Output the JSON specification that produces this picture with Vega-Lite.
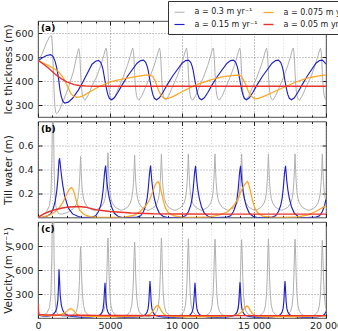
{
  "$schema": "https://vega.github.io/schema/vega-lite/v6.json",
  "padding": {"left": 2, "top": 0, "right": 0, "bottom": 2},
  "config": {
    "font": "DejaVu Sans",
    "view": {"stroke": "#222", "strokeWidth": 0.8},
    "axis": {
      "domain": false,
      "labelFontSize": 9.5,
      "titleFontSize": 10.5,
      "titleFontWeight": "normal",
      "labelColor": "#222",
      "titleColor": "#222",
      "tickColor": "#222",
      "gridColor": "#666",
      "gridDash": [1, 2],
      "gridWidth": 0.7,
      "labelPadding": 9,
      "minExtent": 0
    }
  },
  "datasets": {
    "runs": [
      {"a":"0.3","t":0,"h":485,"w":0,"v":170},
      {"a":"0.3","t":50,"h":487,"w":0.005,"v":40},
      {"a":"0.3","t":300,"h":515,"w":0.02,"v":35},
      {"a":"0.3","t":600,"h":560,"w":0.05,"v":55},
      {"a":"0.3","t":800,"h":584,"w":0.1,"v":130},
      {"a":"0.3","t":900,"h":590,"w":0.2,"v":300},
      {"a":"0.3","t":960,"h":578,"w":0.45,"v":750},
      {"a":"0.3","t":1000,"h":545,"w":0.8,"v":1400},
      {"a":"0.3","t":1040,"h":490,"w":1.0,"v":2000},
      {"a":"0.3","t":1080,"h":420,"w":0.75,"v":1400},
      {"a":"0.3","t":1120,"h":350,"w":0.4,"v":700},
      {"a":"0.3","t":1170,"h":295,"w":0.2,"v":300},
      {"a":"0.3","t":1230,"h":268,"w":0.1,"v":130},
      {"a":"0.3","t":1300,"h":264,"w":0.06,"v":70},
      {"a":"0.3","t":1450,"h":275,"w":0.03,"v":35},
      {"a":"0.3","t":1700,"h":308,"w":0.03,"v":22},
      {"a":"0.3","t":2000,"h":355,"w":0.04,"v":20},
      {"a":"0.3","t":2160,"h":382,"w":0.05,"v":22},
      {"a":"0.3","t":2460,"h":440,"w":0.075,"v":40},
      {"a":"0.3","t":2660,"h":495,"w":0.11,"v":80},
      {"a":"0.3","t":2760,"h":522,"w":0.15,"v":150},
      {"a":"0.3","t":2830,"h":535,"w":0.21,"v":280},
      {"a":"0.3","t":2880,"h":522,"w":0.29,"v":470},
      {"a":"0.3","t":2920,"h":488,"w":0.39,"v":720},
      {"a":"0.3","t":2960,"h":436,"w":0.51,"v":890},
      {"a":"0.3","t":3000,"h":392,"w":0.38,"v":720},
      {"a":"0.3","t":3040,"h":362,"w":0.28,"v":470},
      {"a":"0.3","t":3090,"h":340,"w":0.21,"v":290},
      {"a":"0.3","t":3160,"h":326,"w":0.16,"v":160},
      {"a":"0.3","t":3260,"h":320,"w":0.12,"v":85},
      {"a":"0.3","t":3460,"h":338,"w":0.085,"v":40},
      {"a":"0.3","t":3760,"h":380,"w":0.065,"v":22},
      {"a":"0.3","t":3910,"h":398,"w":0.06,"v":18},
      {"a":"0.3","t":4060,"h":416,"w":0.065,"v":22},
      {"a":"0.3","t":4360,"h":465,"w":0.085,"v":40},
      {"a":"0.3","t":4560,"h":505,"w":0.12,"v":85},
      {"a":"0.3","t":4660,"h":527,"w":0.16,"v":160},
      {"a":"0.3","t":4730,"h":537,"w":0.22,"v":300},
      {"a":"0.3","t":4780,"h":522,"w":0.31,"v":530},
      {"a":"0.3","t":4820,"h":488,"w":0.41,"v":810},
      {"a":"0.3","t":4860,"h":436,"w":0.54,"v":1000},
      {"a":"0.3","t":4900,"h":392,"w":0.41,"v":810},
      {"a":"0.3","t":4940,"h":362,"w":0.31,"v":530},
      {"a":"0.3","t":4990,"h":340,"w":0.22,"v":300},
      {"a":"0.3","t":5060,"h":326,"w":0.16,"v":160},
      {"a":"0.3","t":5160,"h":320,"w":0.12,"v":85},
      {"a":"0.3","t":5360,"h":338,"w":0.085,"v":40},
      {"a":"0.3","t":5660,"h":380,"w":0.065,"v":22},
      {"a":"0.3","t":5785,"h":398,"w":0.06,"v":18},
      {"a":"0.3","t":5910,"h":416,"w":0.065,"v":22},
      {"a":"0.3","t":6210,"h":465,"w":0.085,"v":40},
      {"a":"0.3","t":6410,"h":505,"w":0.12,"v":85},
      {"a":"0.3","t":6510,"h":527,"w":0.16,"v":160},
      {"a":"0.3","t":6580,"h":537,"w":0.22,"v":300},
      {"a":"0.3","t":6630,"h":522,"w":0.29,"v":500},
      {"a":"0.3","t":6670,"h":488,"w":0.39,"v":770},
      {"a":"0.3","t":6710,"h":436,"w":0.52,"v":950},
      {"a":"0.3","t":6750,"h":392,"w":0.39,"v":770},
      {"a":"0.3","t":6790,"h":362,"w":0.29,"v":500},
      {"a":"0.3","t":6840,"h":340,"w":0.22,"v":300},
      {"a":"0.3","t":6910,"h":326,"w":0.16,"v":160},
      {"a":"0.3","t":7010,"h":320,"w":0.12,"v":85},
      {"a":"0.3","t":7210,"h":338,"w":0.085,"v":40},
      {"a":"0.3","t":7510,"h":380,"w":0.065,"v":22},
      {"a":"0.3","t":7640,"h":398,"w":0.06,"v":18},
      {"a":"0.3","t":7770,"h":416,"w":0.065,"v":22},
      {"a":"0.3","t":8070,"h":465,"w":0.085,"v":40},
      {"a":"0.3","t":8270,"h":505,"w":0.12,"v":85},
      {"a":"0.3","t":8370,"h":527,"w":0.16,"v":160},
      {"a":"0.3","t":8440,"h":537,"w":0.22,"v":300},
      {"a":"0.3","t":8490,"h":522,"w":0.3,"v":530},
      {"a":"0.3","t":8530,"h":488,"w":0.4,"v":810},
      {"a":"0.3","t":8570,"h":436,"w":0.53,"v":1000},
      {"a":"0.3","t":8610,"h":392,"w":0.4,"v":810},
      {"a":"0.3","t":8650,"h":362,"w":0.3,"v":530},
      {"a":"0.3","t":8700,"h":340,"w":0.22,"v":300},
      {"a":"0.3","t":8770,"h":326,"w":0.16,"v":160},
      {"a":"0.3","t":8870,"h":320,"w":0.12,"v":85},
      {"a":"0.3","t":9070,"h":338,"w":0.085,"v":40},
      {"a":"0.3","t":9370,"h":380,"w":0.065,"v":22},
      {"a":"0.3","t":9505,"h":398,"w":0.06,"v":18},
      {"a":"0.3","t":9640,"h":416,"w":0.065,"v":22},
      {"a":"0.3","t":9940,"h":465,"w":0.085,"v":40},
      {"a":"0.3","t":10140,"h":505,"w":0.12,"v":85},
      {"a":"0.3","t":10240,"h":527,"w":0.16,"v":160},
      {"a":"0.3","t":10310,"h":537,"w":0.22,"v":300},
      {"a":"0.3","t":10360,"h":522,"w":0.3,"v":525},
      {"a":"0.3","t":10400,"h":488,"w":0.4,"v":800},
      {"a":"0.3","t":10440,"h":436,"w":0.53,"v":990},
      {"a":"0.3","t":10480,"h":392,"w":0.4,"v":800},
      {"a":"0.3","t":10520,"h":362,"w":0.3,"v":525},
      {"a":"0.3","t":10570,"h":340,"w":0.22,"v":300},
      {"a":"0.3","t":10640,"h":326,"w":0.16,"v":160},
      {"a":"0.3","t":10740,"h":320,"w":0.12,"v":85},
      {"a":"0.3","t":10940,"h":338,"w":0.085,"v":40},
      {"a":"0.3","t":11240,"h":380,"w":0.065,"v":22},
      {"a":"0.3","t":11365,"h":398,"w":0.06,"v":18},
      {"a":"0.3","t":11490,"h":416,"w":0.065,"v":22},
      {"a":"0.3","t":11790,"h":465,"w":0.085,"v":40},
      {"a":"0.3","t":11990,"h":505,"w":0.12,"v":85},
      {"a":"0.3","t":12090,"h":527,"w":0.16,"v":160},
      {"a":"0.3","t":12160,"h":537,"w":0.22,"v":300},
      {"a":"0.3","t":12210,"h":522,"w":0.3,"v":520},
      {"a":"0.3","t":12250,"h":488,"w":0.4,"v":800},
      {"a":"0.3","t":12290,"h":436,"w":0.53,"v":985},
      {"a":"0.3","t":12330,"h":392,"w":0.4,"v":800},
      {"a":"0.3","t":12370,"h":362,"w":0.3,"v":520},
      {"a":"0.3","t":12420,"h":340,"w":0.22,"v":300},
      {"a":"0.3","t":12490,"h":326,"w":0.16,"v":160},
      {"a":"0.3","t":12590,"h":320,"w":0.12,"v":85},
      {"a":"0.3","t":12790,"h":338,"w":0.085,"v":40},
      {"a":"0.3","t":13090,"h":380,"w":0.065,"v":22},
      {"a":"0.3","t":13215,"h":398,"w":0.06,"v":18},
      {"a":"0.3","t":13340,"h":416,"w":0.065,"v":22},
      {"a":"0.3","t":13640,"h":465,"w":0.085,"v":40},
      {"a":"0.3","t":13840,"h":505,"w":0.12,"v":85},
      {"a":"0.3","t":13940,"h":527,"w":0.16,"v":160},
      {"a":"0.3","t":14010,"h":537,"w":0.22,"v":300},
      {"a":"0.3","t":14060,"h":522,"w":0.3,"v":520},
      {"a":"0.3","t":14100,"h":488,"w":0.4,"v":795},
      {"a":"0.3","t":14140,"h":436,"w":0.53,"v":980},
      {"a":"0.3","t":14180,"h":392,"w":0.4,"v":795},
      {"a":"0.3","t":14220,"h":362,"w":0.3,"v":520},
      {"a":"0.3","t":14270,"h":340,"w":0.22,"v":300},
      {"a":"0.3","t":14340,"h":326,"w":0.16,"v":160},
      {"a":"0.3","t":14440,"h":320,"w":0.12,"v":85},
      {"a":"0.3","t":14640,"h":338,"w":0.085,"v":40},
      {"a":"0.3","t":14940,"h":380,"w":0.065,"v":22},
      {"a":"0.3","t":15070,"h":398,"w":0.06,"v":18},
      {"a":"0.3","t":15200,"h":416,"w":0.065,"v":22},
      {"a":"0.3","t":15500,"h":465,"w":0.085,"v":40},
      {"a":"0.3","t":15700,"h":505,"w":0.12,"v":85},
      {"a":"0.3","t":15800,"h":527,"w":0.16,"v":160},
      {"a":"0.3","t":15870,"h":537,"w":0.22,"v":300},
      {"a":"0.3","t":15920,"h":522,"w":0.3,"v":520},
      {"a":"0.3","t":15960,"h":488,"w":0.4,"v":800},
      {"a":"0.3","t":16000,"h":436,"w":0.53,"v":985},
      {"a":"0.3","t":16040,"h":392,"w":0.4,"v":800},
      {"a":"0.3","t":16080,"h":362,"w":0.3,"v":520},
      {"a":"0.3","t":16130,"h":340,"w":0.22,"v":300},
      {"a":"0.3","t":16200,"h":326,"w":0.16,"v":160},
      {"a":"0.3","t":16300,"h":320,"w":0.12,"v":85},
      {"a":"0.3","t":16500,"h":338,"w":0.085,"v":40},
      {"a":"0.3","t":16800,"h":380,"w":0.065,"v":22},
      {"a":"0.3","t":16925,"h":398,"w":0.06,"v":18},
      {"a":"0.3","t":17050,"h":416,"w":0.065,"v":22},
      {"a":"0.3","t":17350,"h":465,"w":0.085,"v":40},
      {"a":"0.3","t":17550,"h":505,"w":0.12,"v":85},
      {"a":"0.3","t":17650,"h":527,"w":0.16,"v":160},
      {"a":"0.3","t":17720,"h":537,"w":0.22,"v":300},
      {"a":"0.3","t":17770,"h":522,"w":0.3,"v":520},
      {"a":"0.3","t":17810,"h":488,"w":0.4,"v":800},
      {"a":"0.3","t":17850,"h":436,"w":0.53,"v":985},
      {"a":"0.3","t":17890,"h":392,"w":0.4,"v":800},
      {"a":"0.3","t":17930,"h":362,"w":0.3,"v":520},
      {"a":"0.3","t":17980,"h":340,"w":0.22,"v":300},
      {"a":"0.3","t":18050,"h":326,"w":0.16,"v":160},
      {"a":"0.3","t":18150,"h":320,"w":0.12,"v":85},
      {"a":"0.3","t":18350,"h":338,"w":0.085,"v":40},
      {"a":"0.3","t":18650,"h":380,"w":0.065,"v":22},
      {"a":"0.3","t":18797,"h":398,"w":0.06,"v":18},
      {"a":"0.3","t":18945,"h":416,"w":0.065,"v":22},
      {"a":"0.3","t":19245,"h":465,"w":0.085,"v":40},
      {"a":"0.3","t":19445,"h":505,"w":0.12,"v":85},
      {"a":"0.3","t":19545,"h":527,"w":0.16,"v":160},
      {"a":"0.3","t":19615,"h":537,"w":0.22,"v":300},
      {"a":"0.3","t":19665,"h":522,"w":0.3,"v":515},
      {"a":"0.3","t":19705,"h":488,"w":0.4,"v":785},
      {"a":"0.3","t":19745,"h":436,"w":0.53,"v":970},
      {"a":"0.3","t":19785,"h":392,"w":0.4,"v":785},
      {"a":"0.3","t":19825,"h":362,"w":0.3,"v":515},
      {"a":"0.3","t":19875,"h":340,"w":0.22,"v":300},
      {"a":"0.3","t":19945,"h":326,"w":0.16,"v":160},
      {"a":"0.3","t":20000,"h":322,"w":0.14,"v":120},

      {"a":"0.15","t":0,"h":485,"w":0,"v":170},
      {"a":"0.15","t":50,"h":486,"w":0,"v":35},
      {"a":"0.15","t":300,"h":497,"w":0.002,"v":25},
      {"a":"0.15","t":600,"h":506,"w":0.01,"v":24},
      {"a":"0.15","t":880,"h":510,"w":0.03,"v":30},
      {"a":"0.15","t":1050,"h":502,"w":0.07,"v":45},
      {"a":"0.15","t":1200,"h":480,"w":0.14,"v":75},
      {"a":"0.15","t":1300,"h":455,"w":0.22,"v":120},
      {"a":"0.15","t":1380,"h":428,"w":0.32,"v":220},
      {"a":"0.15","t":1420,"h":412,"w":0.4,"v":380},
      {"a":"0.15","t":1458,"h":395,"w":0.47,"v":608},
      {"a":"0.15","t":1500,"h":375,"w":0.494,"v":460},
      {"a":"0.15","t":1540,"h":358,"w":0.45,"v":290},
      {"a":"0.15","t":1620,"h":335,"w":0.36,"v":160},
      {"a":"0.15","t":1720,"h":316,"w":0.27,"v":95},
      {"a":"0.15","t":1850,"h":308,"w":0.18,"v":55},
      {"a":"0.15","t":2100,"h":312,"w":0.08,"v":30},
      {"a":"0.15","t":2400,"h":328,"w":0.03,"v":18},
      {"a":"0.15","t":2800,"h":362,"w":0.008,"v":13},
      {"a":"0.15","t":3090,"h":393,"w":0,"v":10},
      {"a":"0.15","t":3753,"h":470,"w":0.003,"v":13},
      {"a":"0.15","t":4003,"h":482,"w":0.015,"v":18},
      {"a":"0.15","t":4203,"h":486,"w":0.05,"v":28},
      {"a":"0.15","t":4353,"h":478,"w":0.1,"v":45},
      {"a":"0.15","t":4453,"h":462,"w":0.16,"v":75},
      {"a":"0.15","t":4523,"h":445,"w":0.23,"v":120},
      {"a":"0.15","t":4573,"h":428,"w":0.3,"v":200},
      {"a":"0.15","t":4613,"h":414,"w":0.36,"v":330},
      {"a":"0.15","t":4653,"h":400,"w":0.4,"v":441},
      {"a":"0.15","t":4693,"h":388,"w":0.433,"v":330},
      {"a":"0.15","t":4733,"h":375,"w":0.37,"v":200},
      {"a":"0.15","t":4783,"h":360,"w":0.3,"v":120},
      {"a":"0.15","t":4853,"h":343,"w":0.23,"v":75},
      {"a":"0.15","t":4953,"h":328,"w":0.16,"v":45},
      {"a":"0.15","t":5103,"h":322,"w":0.09,"v":28},
      {"a":"0.15","t":5303,"h":330,"w":0.035,"v":18},
      {"a":"0.15","t":5553,"h":353,"w":0.01,"v":13},
      {"a":"0.15","t":5853,"h":385,"w":0,"v":11},
      {"a":"0.15","t":6215,"h":420,"w":0,"v":10},
      {"a":"0.15","t":6878,"h":474,"w":0.003,"v":13},
      {"a":"0.15","t":7128,"h":485,"w":0.015,"v":18},
      {"a":"0.15","t":7328,"h":487,"w":0.05,"v":28},
      {"a":"0.15","t":7478,"h":478,"w":0.1,"v":45},
      {"a":"0.15","t":7578,"h":462,"w":0.16,"v":75},
      {"a":"0.15","t":7648,"h":445,"w":0.23,"v":120},
      {"a":"0.15","t":7698,"h":428,"w":0.3,"v":205},
      {"a":"0.15","t":7738,"h":414,"w":0.36,"v":345},
      {"a":"0.15","t":7778,"h":400,"w":0.4,"v":462},
      {"a":"0.15","t":7818,"h":388,"w":0.433,"v":345},
      {"a":"0.15","t":7858,"h":375,"w":0.37,"v":205},
      {"a":"0.15","t":7908,"h":360,"w":0.3,"v":120},
      {"a":"0.15","t":7978,"h":343,"w":0.23,"v":75},
      {"a":"0.15","t":8078,"h":328,"w":0.16,"v":45},
      {"a":"0.15","t":8228,"h":322,"w":0.09,"v":28},
      {"a":"0.15","t":8428,"h":330,"w":0.035,"v":18},
      {"a":"0.15","t":8678,"h":353,"w":0.01,"v":13},
      {"a":"0.15","t":8978,"h":385,"w":0,"v":11},
      {"a":"0.15","t":9340,"h":420,"w":0,"v":10},
      {"a":"0.15","t":10002,"h":474,"w":0.003,"v":13},
      {"a":"0.15","t":10252,"h":485,"w":0.015,"v":18},
      {"a":"0.15","t":10452,"h":487,"w":0.05,"v":28},
      {"a":"0.15","t":10602,"h":478,"w":0.1,"v":45},
      {"a":"0.15","t":10702,"h":462,"w":0.16,"v":75},
      {"a":"0.15","t":10772,"h":445,"w":0.23,"v":120},
      {"a":"0.15","t":10822,"h":428,"w":0.3,"v":200},
      {"a":"0.15","t":10862,"h":414,"w":0.36,"v":330},
      {"a":"0.15","t":10902,"h":400,"w":0.4,"v":441},
      {"a":"0.15","t":10942,"h":388,"w":0.43,"v":330},
      {"a":"0.15","t":10982,"h":375,"w":0.37,"v":200},
      {"a":"0.15","t":11032,"h":360,"w":0.3,"v":120},
      {"a":"0.15","t":11102,"h":343,"w":0.23,"v":75},
      {"a":"0.15","t":11202,"h":328,"w":0.16,"v":45},
      {"a":"0.15","t":11352,"h":322,"w":0.09,"v":28},
      {"a":"0.15","t":11552,"h":330,"w":0.035,"v":18},
      {"a":"0.15","t":11802,"h":353,"w":0.01,"v":13},
      {"a":"0.15","t":12102,"h":385,"w":0,"v":11},
      {"a":"0.15","t":12465,"h":420,"w":0,"v":10},
      {"a":"0.15","t":13127,"h":474,"w":0.003,"v":13},
      {"a":"0.15","t":13377,"h":485,"w":0.015,"v":18},
      {"a":"0.15","t":13577,"h":487,"w":0.05,"v":28},
      {"a":"0.15","t":13727,"h":478,"w":0.1,"v":45},
      {"a":"0.15","t":13827,"h":462,"w":0.16,"v":75},
      {"a":"0.15","t":13897,"h":445,"w":0.23,"v":120},
      {"a":"0.15","t":13947,"h":428,"w":0.3,"v":200},
      {"a":"0.15","t":13987,"h":414,"w":0.36,"v":335},
      {"a":"0.15","t":14027,"h":400,"w":0.4,"v":446},
      {"a":"0.15","t":14067,"h":388,"w":0.43,"v":335},
      {"a":"0.15","t":14107,"h":375,"w":0.37,"v":200},
      {"a":"0.15","t":14157,"h":360,"w":0.3,"v":120},
      {"a":"0.15","t":14227,"h":343,"w":0.23,"v":75},
      {"a":"0.15","t":14327,"h":328,"w":0.16,"v":45},
      {"a":"0.15","t":14477,"h":322,"w":0.09,"v":28},
      {"a":"0.15","t":14677,"h":330,"w":0.035,"v":18},
      {"a":"0.15","t":14927,"h":353,"w":0.01,"v":13},
      {"a":"0.15","t":15227,"h":385,"w":0,"v":11},
      {"a":"0.15","t":15590,"h":420,"w":0,"v":10},
      {"a":"0.15","t":16252,"h":474,"w":0.003,"v":13},
      {"a":"0.15","t":16502,"h":485,"w":0.015,"v":18},
      {"a":"0.15","t":16702,"h":487,"w":0.05,"v":28},
      {"a":"0.15","t":16852,"h":478,"w":0.1,"v":45},
      {"a":"0.15","t":16952,"h":462,"w":0.16,"v":75},
      {"a":"0.15","t":17022,"h":445,"w":0.23,"v":120},
      {"a":"0.15","t":17072,"h":428,"w":0.3,"v":205},
      {"a":"0.15","t":17112,"h":414,"w":0.36,"v":345},
      {"a":"0.15","t":17152,"h":400,"w":0.4,"v":462},
      {"a":"0.15","t":17192,"h":388,"w":0.43,"v":345},
      {"a":"0.15","t":17232,"h":375,"w":0.37,"v":205},
      {"a":"0.15","t":17282,"h":360,"w":0.3,"v":120},
      {"a":"0.15","t":17352,"h":343,"w":0.23,"v":75},
      {"a":"0.15","t":17452,"h":328,"w":0.16,"v":45},
      {"a":"0.15","t":17602,"h":322,"w":0.09,"v":28},
      {"a":"0.15","t":17802,"h":330,"w":0.035,"v":18},
      {"a":"0.15","t":18052,"h":353,"w":0.01,"v":13},
      {"a":"0.15","t":18352,"h":385,"w":0,"v":11},
      {"a":"0.15","t":18691,"h":420,"w":0,"v":10},
      {"a":"0.15","t":19300,"h":474,"w":0.003,"v":13},
      {"a":"0.15","t":19550,"h":485,"w":0.015,"v":18},
      {"a":"0.15","t":19750,"h":487,"w":0.05,"v":28},
      {"a":"0.15","t":19900,"h":478,"w":0.1,"v":45},
      {"a":"0.15","t":20000,"h":470,"w":0.15,"v":80},

      {"a":"0.075","t":0,"h":485,"w":0,"v":170},
      {"a":"0.075","t":50,"h":484,"w":0,"v":40},
      {"a":"0.075","t":300,"h":476,"w":0.003,"v":32},
      {"a":"0.075","t":700,"h":465,"w":0.015,"v":30},
      {"a":"0.075","t":1100,"h":452,"w":0.04,"v":30},
      {"a":"0.075","t":1400,"h":440,"w":0.07,"v":33},
      {"a":"0.075","t":1700,"h":418,"w":0.12,"v":52},
      {"a":"0.075","t":1900,"h":397,"w":0.17,"v":70},
      {"a":"0.075","t":2050,"h":378,"w":0.21,"v":92},
      {"a":"0.075","t":2150,"h":365,"w":0.23,"v":108},
      {"a":"0.075","t":2269,"h":350,"w":0.245,"v":116},
      {"a":"0.075","t":2338,"h":344,"w":0.25,"v":112},
      {"a":"0.075","t":2450,"h":338,"w":0.23,"v":100},
      {"a":"0.075","t":2550,"h":335,"w":0.19,"v":78},
      {"a":"0.075","t":2700,"h":332,"w":0.12,"v":48},
      {"a":"0.075","t":2900,"h":334,"w":0.06,"v":30},
      {"a":"0.075","t":3200,"h":340,"w":0.025,"v":22},
      {"a":"0.075","t":3600,"h":355,"w":0.008,"v":20},
      {"a":"0.075","t":4200,"h":375,"w":0,"v":18},
      {"a":"0.075","t":5000,"h":396,"w":0,"v":17},
      {"a":"0.075","t":6000,"h":410,"w":0.003,"v":18},
      {"a":"0.075","t":6700,"h":417,"w":0.02,"v":20},
      {"a":"0.075","t":7100,"h":421,"w":0.05,"v":24},
      {"a":"0.075","t":7500,"h":424,"w":0.1,"v":30},
      {"a":"0.075","t":7757,"h":425,"w":0.15,"v":45},
      {"a":"0.075","t":7950,"h":420,"w":0.21,"v":80},
      {"a":"0.075","t":8100,"h":405,"w":0.26,"v":120},
      {"a":"0.075","t":8200,"h":390,"w":0.285,"v":145},
      {"a":"0.075","t":8288,"h":375,"w":0.295,"v":158},
      {"a":"0.075","t":8334,"h":368,"w":0.3,"v":155},
      {"a":"0.075","t":8420,"h":355,"w":0.285,"v":138},
      {"a":"0.075","t":8550,"h":340,"w":0.22,"v":95},
      {"a":"0.075","t":8700,"h":330,"w":0.14,"v":55},
      {"a":"0.075","t":8850,"h":327,"w":0.08,"v":35},
      {"a":"0.075","t":9050,"h":328,"w":0.04,"v":24},
      {"a":"0.075","t":9400,"h":336,"w":0.015,"v":19},
      {"a":"0.075","t":10000,"h":355,"w":0.003,"v":17},
      {"a":"0.075","t":11000,"h":385,"w":0,"v":16},
      {"a":"0.075","t":12000,"h":405,"w":0.005,"v":17},
      {"a":"0.075","t":12700,"h":416,"w":0.025,"v":19},
      {"a":"0.075","t":13200,"h":420,"w":0.05,"v":23},
      {"a":"0.075","t":13600,"h":423,"w":0.1,"v":30},
      {"a":"0.075","t":13900,"h":424,"w":0.16,"v":45},
      {"a":"0.075","t":14074,"h":422,"w":0.21,"v":65},
      {"a":"0.075","t":14200,"h":412,"w":0.245,"v":85},
      {"a":"0.075","t":14350,"h":395,"w":0.275,"v":125},
      {"a":"0.075","t":14490,"h":375,"w":0.295,"v":150},
      {"a":"0.075","t":14537,"h":368,"w":0.3,"v":148},
      {"a":"0.075","t":14620,"h":355,"w":0.285,"v":135},
      {"a":"0.075","t":14750,"h":342,"w":0.22,"v":90},
      {"a":"0.075","t":14900,"h":332,"w":0.14,"v":52},
      {"a":"0.075","t":15050,"h":327,"w":0.08,"v":32},
      {"a":"0.075","t":15250,"h":327,"w":0.04,"v":22},
      {"a":"0.075","t":15600,"h":334,"w":0.012,"v":18},
      {"a":"0.075","t":16200,"h":350,"w":0.003,"v":16},
      {"a":"0.075","t":17000,"h":372,"w":0,"v":16},
      {"a":"0.075","t":18000,"h":398,"w":0.005,"v":17},
      {"a":"0.075","t":18700,"h":412,"w":0.02,"v":19},
      {"a":"0.075","t":19300,"h":419,"w":0.05,"v":22},
      {"a":"0.075","t":20000,"h":426,"w":0.1,"v":28},

      {"a":"0.05","t":0,"h":485,"w":0,"v":175},
      {"a":"0.05","t":50,"h":484,"w":0.005,"v":45},
      {"a":"0.05","t":400,"h":470,"w":0.03,"v":40},
      {"a":"0.05","t":800,"h":450,"w":0.05,"v":38},
      {"a":"0.05","t":1200,"h":428,"w":0.065,"v":37},
      {"a":"0.05","t":1600,"h":410,"w":0.077,"v":36},
      {"a":"0.05","t":2000,"h":396,"w":0.085,"v":36},
      {"a":"0.05","t":2500,"h":385,"w":0.09,"v":35},
      {"a":"0.05","t":2850,"h":381,"w":0.092,"v":35},
      {"a":"0.05","t":3300,"h":379,"w":0.086,"v":34},
      {"a":"0.05","t":4000,"h":378,"w":0.065,"v":33},
      {"a":"0.05","t":5000,"h":378,"w":0.05,"v":32},
      {"a":"0.05","t":6500,"h":378,"w":0.037,"v":31},
      {"a":"0.05","t":8000,"h":378,"w":0.031,"v":30},
      {"a":"0.05","t":10000,"h":378,"w":0.029,"v":30},
      {"a":"0.05","t":13000,"h":378,"w":0.028,"v":30},
      {"a":"0.05","t":20000,"h":378,"w":0.028,"v":30}
    ]
  },
  "data": {"name": "runs"},
  "spacing": 2.5,
  "vconcat": [
    {
      "width": 288,
      "height": 96,
      "resolve": {"axis": {"x": "independent", "y": "independent"}},
      "layer": [
        {
          "mark": {"type": "line", "clip": true},
          "encoding": {
            "x": {
              "field": "t", "type": "quantitative",
              "scale": {"domain": [0, 20000], "nice": false},
              "axis": {
                "title": null, "labels": false,
                "values": [0,1000,2000,3000,4000,5000,6000,7000,8000,9000,10000,11000,12000,13000,14000,15000,16000,17000,18000,19000,20000],
                "tickSize": {"condition": {"test": "datum.value % 5000 === 0", "value": -4}, "value": -2},
                "gridColor": {"condition": {"test": "datum.value % 5000 === 0", "value": "#555"}, "value": "#c8c8c8"}
              }
            },
            "y": {
              "field": "h", "type": "quantitative",
              "scale": {"domain": [250, 650], "nice": false, "zero": false},
              "axis": {"title": "Ice thickness (m)", "values": [300, 400, 500, 600], "labelOverlap": false, "tickSize": -4, "titleX": -30, "titleBaseline": "middle"}
            },
            "color": {
              "field": "a", "type": "nominal",
              "scale": {"domain": ["0.3", "0.15", "0.075", "0.05"], "range": ["#b0b0b0", "#1f1fc8", "#ffa620", "#e8332c"]},
              "legend": {
                "orient": "none", "legendX": 130, "legendY": -20, "columns": 2, "title": null,
                "symbolType": "stroke", "symbolSize": 100, "symbolStrokeWidth": 1.5,
                "labelOffset": 9, "labelFontSize": 8, "labelColor": "#222",
                "fillColor": "white", "strokeColor": "#333", "padding": 5.5,
                "columnPadding": 3, "rowPadding": 2,
                "labelExpr": "'a = ' + datum.label + ' m yr\u207b\u00b9'"
              }
            },
            "strokeWidth": {
              "field": "a", "type": "nominal", "legend": null,
              "scale": {"domain": ["0.3", "0.15", "0.075", "0.05"], "range": [1, 1.4, 1.2, 1.3]}
            }
          }
        },
        {
          "data": {"values": [{"tag": "(a)"}]},
          "mark": {"type": "text", "align": "left", "baseline": "top", "dx": 3, "dy": 3, "fontWeight": "bold", "fontSize": 9},
          "encoding": {
            "x": {"datum": 0, "axis": {"orient": "top", "title": null, "labels": false, "grid": false,
              "values": [0,1000,2000,3000,4000,5000,6000,7000,8000,9000,10000,11000,12000,13000,14000,15000,16000,17000,18000,19000,20000],
              "tickSize": {"condition": {"test": "datum.value % 5000 === 0", "value": -4}, "value": -2}}},
            "y": {"datum": 650, "axis": {"orient": "right", "title": null, "labels": false, "grid": false, "values": [300, 400, 500, 600], "tickSize": -4}},
            "text": {"field": "tag"}
          }
        }
      ]
    },
    {
      "width": 288,
      "height": 96,
      "resolve": {"axis": {"x": "independent", "y": "independent"}},
      "layer": [
        {
          "mark": {"type": "line", "clip": true},
          "encoding": {
            "x": {
              "field": "t", "type": "quantitative",
              "scale": {"domain": [0, 20000], "nice": false},
              "axis": {
                "title": null, "labels": false,
                "values": [0,1000,2000,3000,4000,5000,6000,7000,8000,9000,10000,11000,12000,13000,14000,15000,16000,17000,18000,19000,20000],
                "tickSize": {"condition": {"test": "datum.value % 5000 === 0", "value": -4}, "value": -2},
                "gridColor": {"condition": {"test": "datum.value % 5000 === 0", "value": "#555"}, "value": "#c8c8c8"}
              }
            },
            "y": {
              "field": "w", "type": "quantitative",
              "scale": {"domain": [0, 0.8], "nice": false},
              "axis": {"title": "Till water (m)", "values": [0.2, 0.4, 0.6], "format": ".1f", "labelOverlap": false, "tickSize": -4, "titleX": -30, "titleBaseline": "middle"}
            },
            "color": {"field": "a", "type": "nominal"},
            "strokeWidth": {"field": "a", "type": "nominal", "legend": null}
          }
        },
        {
          "data": {"values": [{"tag": "(b)"}]},
          "mark": {"type": "text", "align": "left", "baseline": "top", "dx": 3, "dy": 3, "fontWeight": "bold", "fontSize": 9},
          "encoding": {
            "x": {"datum": 0, "axis": {"orient": "top", "title": null, "labels": false, "grid": false,
              "values": [0,1000,2000,3000,4000,5000,6000,7000,8000,9000,10000,11000,12000,13000,14000,15000,16000,17000,18000,19000,20000],
              "tickSize": {"condition": {"test": "datum.value % 5000 === 0", "value": -4}, "value": -2}}},
            "y": {"datum": 0.8, "axis": {"orient": "right", "title": null, "labels": false, "grid": false, "values": [0.2, 0.4, 0.6], "tickSize": -4}},
            "text": {"field": "tag"}
          }
        }
      ]
    },
    {
      "width": 288,
      "height": 96,
      "resolve": {"axis": {"x": "independent", "y": "independent"}},
      "layer": [
        {
          "mark": {"type": "line", "clip": true},
          "encoding": {
            "x": {
              "field": "t", "type": "quantitative",
              "scale": {"domain": [0, 20000], "nice": false},
              "axis": {
                "title": null, "labelFlush": false, "labelOverlap": false, "labelPadding": 6,
                "values": [0,1000,2000,3000,4000,5000,6000,7000,8000,9000,10000,11000,12000,13000,14000,15000,16000,17000,18000,19000,20000],
                "labelExpr": "datum.value % 5000 === 0 ? (datum.value >= 10000 ? floor(datum.value / 1000) + ' 000' : '' + datum.value) : ''",
                "tickSize": {"condition": {"test": "datum.value % 5000 === 0", "value": -4}, "value": -2},
                "gridColor": {"condition": {"test": "datum.value % 5000 === 0", "value": "#555"}, "value": "#c8c8c8"}
              }
            },
            "y": {
              "field": "v", "type": "quantitative",
              "scale": {"domain": [0, 1200], "nice": false},
              "axis": {"title": "Velocity (m yr\u207b\u00b9)", "values": [300, 600, 900], "labelOverlap": false, "tickSize": -4, "titleX": -30, "titleBaseline": "middle"}
            },
            "color": {"field": "a", "type": "nominal"},
            "strokeWidth": {"field": "a", "type": "nominal", "legend": null}
          }
        },
        {
          "data": {"values": [{"tag": "(c)"}]},
          "mark": {"type": "text", "align": "left", "baseline": "top", "dx": 3, "dy": 3, "fontWeight": "bold", "fontSize": 9},
          "encoding": {
            "x": {"datum": 0, "axis": {"orient": "top", "title": null, "labels": false, "grid": false,
              "values": [0,1000,2000,3000,4000,5000,6000,7000,8000,9000,10000,11000,12000,13000,14000,15000,16000,17000,18000,19000,20000],
              "tickSize": {"condition": {"test": "datum.value % 5000 === 0", "value": -4}, "value": -2}}},
            "y": {"datum": 1200, "axis": {"orient": "right", "title": null, "labels": false, "grid": false, "values": [300, 600, 900], "tickSize": -4}},
            "text": {"field": "tag"}
          }
        }
      ]
    }
  ]
}
